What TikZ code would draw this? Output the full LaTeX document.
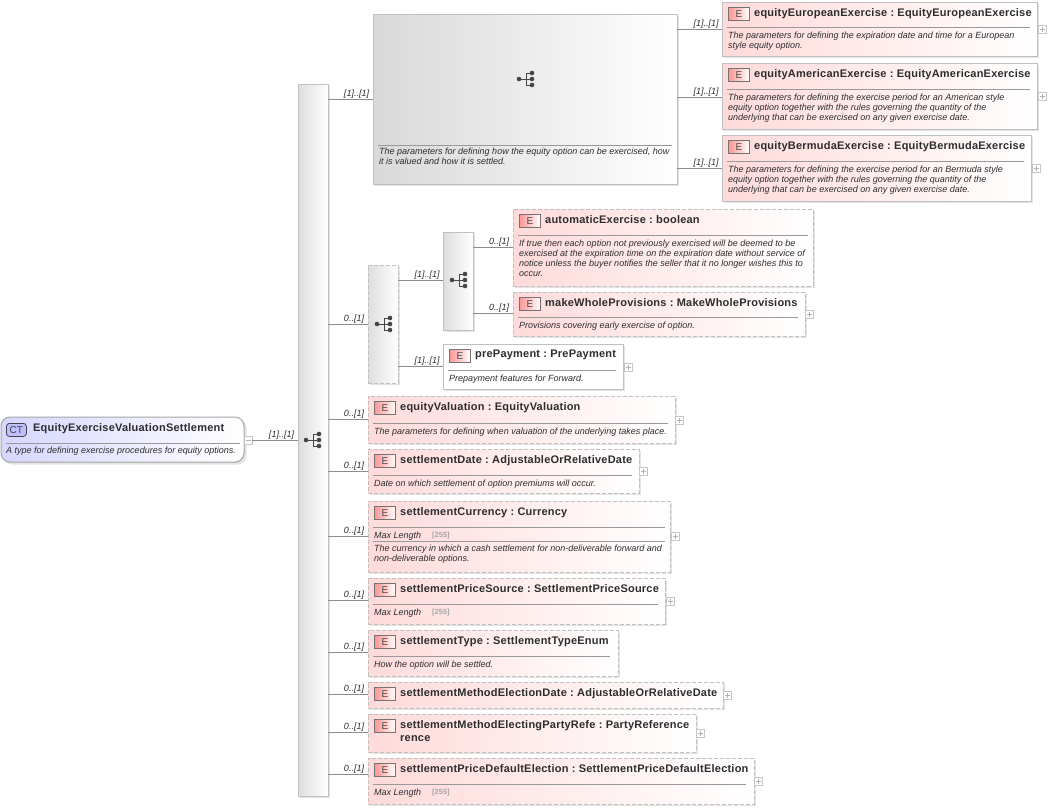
\documentclass[tikz,border=0pt]{standalone}
\usepackage{fontspec}
\setmainfont{Liberation Sans}
\newfontfamily\ttlfont[LetterSpace=2]{Liberation Sans}
\usetikzlibrary{calc}
\definecolor{bord}{RGB}{192,192,192}
\definecolor{pinkl}{RGB}{255,218,218}
\definecolor{txt}{RGB}{45,45,45}
\definecolor{iconc}{RGB}{70,70,70}
\tikzset{
  x=1pt,y=-1pt,
  box/.style={anchor=north west,inner sep=0pt,outer sep=0pt,draw=bord,line width=1pt},
  elemfill/.style={left color=pinkl,right color=white},
  reqfill/.style={fill=white},
  seqfill/.style={left color=black!13,right color=white},
  opt/.style={dash pattern=on 4pt off 2pt},
  conn/.style={draw=black!45,line width=.7pt},
  card/.style={font=\fontsize{9}{9}\selectfont\itshape,text=txt,inner sep=0pt,anchor=base},
  ttl/.style={font=\fontsize{11}{13}\selectfont\ttlfont\bfseries,text=txt,inner sep=0pt,anchor=north west,align=left},
  dsc/.style={font=\fontsize{9}{10}\selectfont\itshape,text=txt,inner sep=0pt,anchor=north west,align=left,yshift=-1.5pt},
  tinylbl/.style={font=\fontsize{7.5}{9}\selectfont\bfseries,text=gray!70,inner sep=0pt,anchor=west},
  sep/.style={draw=gray!80,line width=.7pt},
  plusbox/.style={draw=gray!45,fill=white,line width=.6pt,minimum size=8pt,inner sep=0pt,anchor=center},
  eicon/.style={anchor=north west,draw=gray!90!black,line width=.7pt,left color=red!42!white,right color=white,
     minimum width=21pt,minimum height=13pt,inner sep=0pt,
     font=\fontsize{10}{10}\selectfont,text=black!70},
}
\newcommand{\shadowrect}[4]{\fill[black!11] (#1+2,#2+2) rectangle (#3+2.2,#4+2.2);}
\newcommand{\seqicon}[2]{%
  \begin{scope}[shift={(#1,#2)}]
  \draw[iconc,line width=.9pt] (-7,0) -- (0,0) (0,-6) -- (0,6) (0,-6) -- (6,-6) (0,0) -- (6,0) (0,6) -- (6,6);
  \fill[iconc] (-7,0) circle (2.3) (6,-6) circle (2.3) (6,0) circle (2.3) (6,6) circle (2.3);
  \end{scope}}
\newcommand{\elem}[7]{%
  \shadowrect{#2}{#3}{#2+#4}{#3+#5}
  \node[box,minimum width=#4pt,minimum height=#5pt,#6] (#1) at (#2,#3) {};
  \node[eicon] (#1e) at (#2+6,#3+5) {E};
  \node[ttl,text width=#4pt-32pt] (#1t) at (#2+32,#3+6) {#7};
}
\newcommand{\plusat}[3]{\node[plusbox] (#1) at (#2,#3) {};
  \draw[gray!60,line width=.5pt] (#2-2.5,#3) -- (#2+2.5,#3) (#2,#3-2.5) -- (#2,#3+2.5);}
\newcommand{\cardl}[3]{\node[card] at (#1,#2+.7) {#3};}
\newcommand{\cln}{\hspace{.3em}:\hspace{.3em}}
\begin{document}
\begin{tikzpicture}
\useasboundingbox[fill=white] (0,0) rectangle (1048,809);
% root
\fill[black!11,rounded corners=9pt] (3,419) rectangle (246.5,464.5);
\node[box,rounded corners=9pt,minimum width=243pt,minimum height=45pt,left color=blue!16!white,right color=white,draw=gray!70] (root) at (1,417) {};
\node[anchor=north west,rounded corners=3pt,draw=iconc,line width=.8pt,fill=blue!25!white,minimum width=20pt,minimum height=13pt,inner sep=0pt,font=\fontsize{10}{10}\selectfont,text=iconc] (rooti) at (6,423) {CT};
\node[ttl] (roott) at (33,423) {EquityExerciseValuationSettlement};
\draw[sep] (6,443) -- (240,443);
\node[dsc] (rootd) at (6,445.5) {A type for defining exercise procedures for equity options.};
\node[plusbox] (rootm) at (248,440) {};
\draw[gray!60,line width=.5pt] (245.5,440) -- (250.5,440);
% main seq
\fill[black!11] (300,86) rectangle (330.2,798.2);
\node[box,minimum width=30pt,minimum height=712pt,seqfill] (mainseq) at (298,84) {};
\seqicon{313}{440}
\draw[conn] (rootm.east) -- (mainseq.west |- rootm.east);
\cardl{281.5}{437}{[1]..[1]}
% big seq
\shadowrect{373}{14}{677}{184}
\node[box,minimum width=304pt,minimum height=170pt,left color=black!15,right color=white] (bigseq) at (373,14) {};
\seqicon{526}{79}
\draw[sep] (378,145) -- (672,145);
\node[dsc] (bigd) at (379,146.5) {The parameters for defining how the equity option can be exercised, how\\it is valued and how it is settled.};
\coordinate (c1) at (373,99);
\draw[conn] (mainseq.east |- c1) -- (c1);
\cardl{356.5}{95.5}{[1]..[1]}
% three exercises
\elem{eu}{722}{2}{315}{54}{elemfill}{equityEuropeanExercise\cln EquityEuropeanExercise}
\draw[sep] (727,27) -- (1030,27);
\node[dsc] (eud) at (728,30) {The parameters for defining the expiration date and time for a European\\style equity option.};
\plusat{eup}{1042.5}{29}
\elem{am}{722}{63}{315}{66}{elemfill}{equityAmericanExercise\cln EquityAmericanExercise}
\draw[sep] (727,89) -- (1030,89);
\node[dsc] (amd) at (728,92) {The parameters for defining the exercise period for an American style\\equity option together with the rules governing the quantity of the\\underlying that can be exercised on any given exercise date.};
\plusat{amp}{1042.5}{96}
\elem{be}{722}{135}{309}{66}{elemfill}{equityBermudaExercise\cln EquityBermudaExercise}
\draw[sep] (727,161) -- (1024,161);
\node[dsc] (bed) at (728,164) {The parameters for defining the exercise period for an Bermuda style\\equity option together with the rules governing the quantity of the\\underlying that can be exercised on any given exercise date.};
\plusat{bep}{1036.5}{168}
\coordinate (ceu) at (722,29);\coordinate (cam) at (722,97);\coordinate (cbe) at (722,168);
\draw[conn] (bigseq.east |- ceu) -- (ceu);
\draw[conn] (bigseq.east |- cam) -- (cam);
\draw[conn] (bigseq.east |- cbe) -- (cbe);
\cardl{706}{25.5}{[1]..[1]}\cardl{706}{93.5}{[1]..[1]}\cardl{706}{164.5}{[1]..[1]}
% optional seq
\shadowrect{368}{265}{398}{383}
\node[box,minimum width=30pt,minimum height=118pt,seqfill,opt] (optseq) at (368,265) {};
\seqicon{384}{324}
\draw[conn] (mainseq.east |- optseq.west) -- (optseq.west);
\cardl{354}{320.5}{0..[1]}
% inner seq
\shadowrect{443}{232}{473}{330}
\node[box,minimum width=30pt,minimum height=98pt,seqfill] (inseq) at (443,232) {};
\seqicon{459}{280}
\coordinate (cin) at (443,280);
\draw[conn] (optseq.east |- cin) -- (cin);
\cardl{427}{276.5}{[1]..[1]}
\elem{au}{513}{209}{300}{77}{elemfill,opt}{automaticExercise\cln boolean}
\draw[sep] (518,235) -- (808,235);
\node[dsc] (aud) at (519,238) {If true then each option not previously exercised will be deemed to be\\exercised at the expiration time on the expiration date without service of\\notice unless the buyer notifies the seller that it no longer wishes this to\\occur.};
\elem{mw}{513}{292}{292}{44}{elemfill,opt}{makeWholeProvisions\cln MakeWholeProvisions}
\draw[sep] (518,317) -- (798,317);
\node[dsc] (mwd) at (519,320) {Provisions covering early exercise of option.};
\plusat{mwp}{809}{314}
\coordinate (cau) at (513,247);\coordinate (cmw) at (513,313);
\draw[conn] (inseq.east |- cau) -- (cau);
\draw[conn] (inseq.east |- cmw) -- (cmw);
\cardl{499}{243.5}{0..[1]}\cardl{499}{309.5}{0..[1]}
\elem{pp}{443}{344}{180}{45}{reqfill}{prePayment\cln PrePayment}
\draw[sep] (448,370) -- (616,370);
\node[dsc] (ppd) at (449,373) {Prepayment features for Forward.};
\plusat{ppp}{628}{367}
\coordinate (cpp) at (443,366);
\draw[conn] (optseq.east |- cpp) -- (cpp);
\cardl{427}{362.5}{[1]..[1]}
% list
\elem{ev}{368}{396}{307}{47}{elemfill,opt}{equityValuation\cln EquityValuation}
\draw[sep] (373,423) -- (668,423);
\node[dsc] (evd) at (374,426) {The parameters for defining when valuation of the underlying takes place.};
\plusat{evp}{679.5}{420}
\elem{sd}{368}{449}{271}{44}{elemfill,opt}{settlementDate\cln AdjustableOrRelativeDate}
\draw[sep] (373,475) -- (632,475);
\node[dsc] (sdd) at (374,478) {Date on which settlement of option premiums will occur.};
\plusat{sdp}{643.5}{471}
\elem{sc}{368}{501}{302}{71}{elemfill,opt}{settlementCurrency\cln Currency}
\draw[sep] (373,527) -- (665,527);
\node[dsc] (scm) at (374,530) {Max Length};
\node[tinylbl] (scv) at (432,535.5) {[255]};
\draw[sep] (373,541) -- (665,541);
\node[dsc] (scd) at (374,543) {The currency in which a cash settlement for non-deliverable forward and\\non-deliverable options.};
\plusat{scp}{675.5}{536}
\elem{sp}{368}{578}{297}{46}{elemfill,opt}{settlementPriceSource\cln SettlementPriceSource}
\draw[sep] (373,604) -- (658,604);
\node[dsc] (spm) at (374,607) {Max Length};
\node[tinylbl] (spv) at (432,612.5) {[255]};
\plusat{spp}{670}{601}
\elem{st}{368}{630}{250}{46}{elemfill,opt}{settlementType\cln SettlementTypeEnum}
\draw[sep] (373,656) -- (610,656);
\node[dsc] (std) at (374,659) {How the option will be settled.};
\elem{sm}{368}{682}{355}{26}{elemfill,opt}{settlementMethodElectionDate\cln AdjustableOrRelativeDate}
\plusat{smp}{727.5}{695}
\elem{pr}{368}{714}{328}{38}{elemfill,opt}{settlementMethodElectingPartyRefe\cln PartyReference\\rence}
\plusat{prp}{700}{733}
\elem{pd}{368}{758}{386}{46}{elemfill,opt}{settlementPriceDefaultElection\cln SettlementPriceDefaultElection}
\draw[sep] (373,784) -- (746,784);
\node[dsc] (pdm) at (374,787) {Max Length};
\node[tinylbl] (pdv) at (432,792.5) {[255]};
\plusat{pdp}{758}{781}
\foreach \n/\yy in {ev/419,sd/471,sc/536,sp/600,st/652,sm/694,pr/732,pd/774}{
  \coordinate (t\n) at (368,\yy);
  \draw[conn] (mainseq.east |- t\n) -- (t\n);
  \node[card] at (354,\yy-2.8) {0..[1]};
}
\end{tikzpicture}
\end{document}
